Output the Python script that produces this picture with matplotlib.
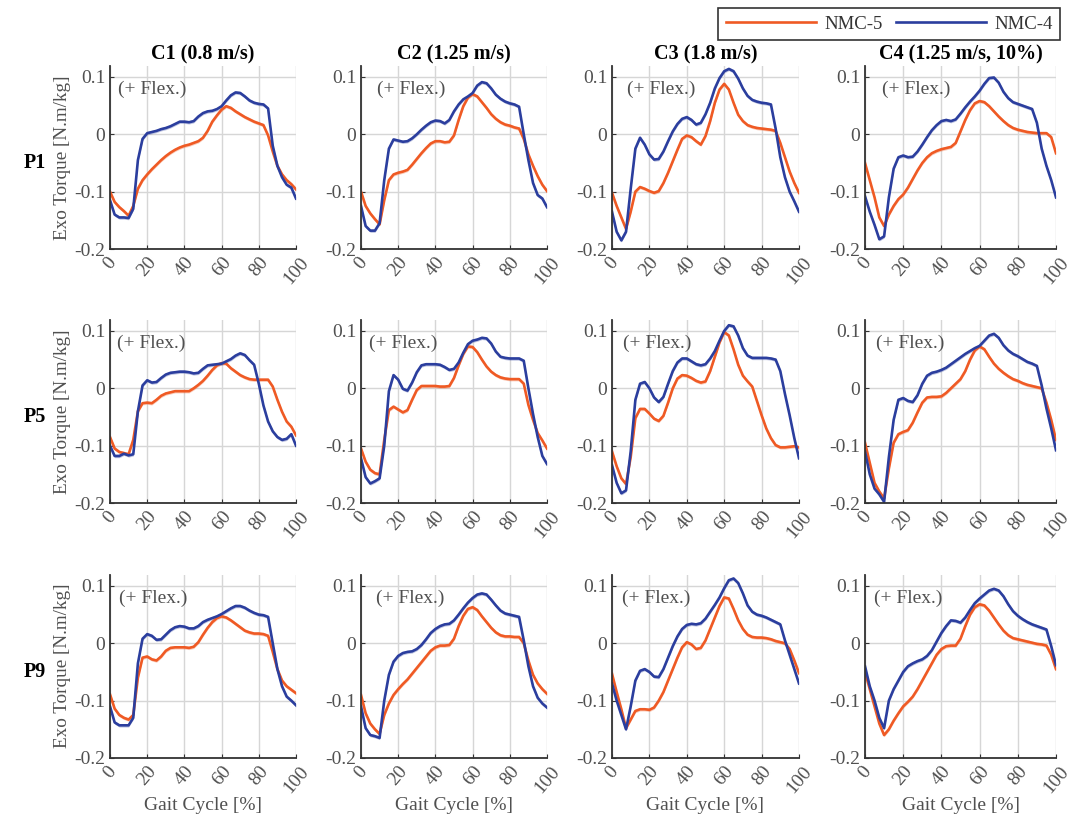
import numpy as np
import matplotlib
matplotlib.use("Agg")
import matplotlib.pyplot as plt
from matplotlib.lines import Line2D

plt.rcParams['font.family'] = ['Liberation Serif', 'DejaVu Serif']

# gait cycle sample points [%]
gait = np.arange(0, 101, 2.5)

conditions = ['C1 (0.8 m/s)', 'C2 (1.25 m/s)', 'C3 (1.8 m/s)', 'C4 (1.25 m/s, 10%)']
participants = ['P1', 'P5', 'P9']
series_names = ['NMC-5', 'NMC-4']

# ---- P1 ----
nmc5_p1_c1 = [-0.100, -0.118, -0.127, -0.134, -0.142, -0.125, -0.095, -0.080, -0.070, -0.061,
              -0.053, -0.045, -0.038, -0.032, -0.027, -0.023, -0.020, -0.018, -0.015, -0.012,
              -0.006, 0.006, 0.022, 0.033, 0.043, 0.049, 0.046, 0.040, 0.035, 0.030,
              0.026, 0.022, 0.019, 0.016, -0.002, -0.030, -0.055, -0.070, -0.080, -0.087, -0.096]
nmc4_p1_c1 = [-0.115, -0.140, -0.145, -0.145, -0.146, -0.130, -0.045, -0.008, 0.002, 0.004,
              0.006, 0.009, 0.011, 0.014, 0.018, 0.022, 0.022, 0.021, 0.023, 0.031,
              0.037, 0.040, 0.041, 0.044, 0.049, 0.059, 0.068, 0.073, 0.072, 0.066,
              0.059, 0.055, 0.053, 0.052, 0.045, -0.020, -0.055, -0.075, -0.088, -0.093, -0.112]
nmc5_p1_c2 = [-0.100, -0.125, -0.138, -0.148, -0.157, -0.115, -0.080, -0.070, -0.067, -0.065,
              -0.062, -0.053, -0.043, -0.033, -0.024, -0.016, -0.012, -0.012, -0.014, -0.013,
              -0.002, 0.025, 0.049, 0.064, 0.070, 0.066, 0.056, 0.046, 0.035, 0.027,
              0.021, 0.017, 0.015, 0.012, 0.010, -0.008, -0.035, -0.055, -0.073, -0.088, -0.099]
nmc4_p1_c2 = [-0.125, -0.160, -0.168, -0.168, -0.155, -0.080, -0.025, -0.009, -0.011, -0.013,
              -0.012, -0.007, 0.000, 0.008, 0.015, 0.021, 0.024, 0.023, 0.019, 0.025,
              0.040, 0.052, 0.061, 0.066, 0.072, 0.085, 0.091, 0.089, 0.080, 0.069,
              0.062, 0.057, 0.054, 0.052, 0.048, 0.000, -0.045, -0.085, -0.106, -0.112, -0.127]
nmc5_p1_c3 = [-0.102, -0.125, -0.145, -0.165, -0.135, -0.100, -0.092, -0.095, -0.099, -0.102,
              -0.099, -0.085, -0.067, -0.047, -0.027, -0.008, -0.002, -0.005, -0.012, -0.018,
              -0.003, 0.023, 0.055, 0.078, 0.088, 0.078, 0.055, 0.034, 0.023, 0.016,
              0.013, 0.011, 0.010, 0.009, 0.008, 0.006, -0.015, -0.040, -0.065, -0.085, -0.102]
nmc4_p1_c3 = [-0.135, -0.170, -0.185, -0.170, -0.095, -0.025, -0.006, -0.018, -0.035, -0.044,
              -0.043, -0.030, -0.012, 0.005, 0.018, 0.027, 0.030, 0.025, 0.017, 0.020,
              0.035, 0.055, 0.080, 0.098, 0.110, 0.114, 0.110, 0.097, 0.080, 0.067,
              0.060, 0.057, 0.055, 0.054, 0.052, 0.010, -0.040, -0.075, -0.100, -0.117, -0.135]
nmc5_p1_c4 = [-0.050, -0.080, -0.110, -0.145, -0.160, -0.140, -0.125, -0.113, -0.105, -0.093,
              -0.078, -0.063, -0.050, -0.040, -0.033, -0.029, -0.026, -0.024, -0.022, -0.015,
              0.005, 0.025, 0.042, 0.054, 0.058, 0.056, 0.049, 0.040, 0.031, 0.023,
              0.016, 0.011, 0.008, 0.006, 0.004, 0.003, 0.002, 0.002, 0.002, -0.005, -0.033]
nmc4_p1_c4 = [-0.108, -0.135, -0.158, -0.183, -0.178, -0.110, -0.060, -0.040, -0.037, -0.040,
              -0.039, -0.030, -0.018, -0.005, 0.007, 0.016, 0.023, 0.025, 0.023, 0.026,
              0.036, 0.047, 0.057, 0.066, 0.076, 0.088, 0.098, 0.099, 0.090, 0.074,
              0.063, 0.056, 0.053, 0.050, 0.047, 0.044, 0.020, -0.025, -0.055, -0.080, -0.110]

# ---- P5 ----
nmc5_p5_c1 = [-0.085, -0.105, -0.111, -0.113, -0.115, -0.090, -0.040, -0.026, -0.025, -0.026,
              -0.020, -0.013, -0.009, -0.007, -0.005, -0.005, -0.005, -0.005, 0.000, 0.006,
              0.013, 0.022, 0.032, 0.040, 0.044, 0.043, 0.035, 0.029, 0.023, 0.019,
              0.016, 0.015, 0.015, 0.015, 0.015, 0.003, -0.020, -0.041, -0.058, -0.067, -0.082]
nmc4_p5_c1 = [-0.100, -0.118, -0.118, -0.114, -0.117, -0.115, -0.040, 0.005, 0.014, 0.010,
              0.011, 0.018, 0.024, 0.027, 0.028, 0.029, 0.029, 0.028, 0.026, 0.027,
              0.034, 0.040, 0.041, 0.042, 0.043, 0.047, 0.051, 0.057, 0.061, 0.058,
              0.049, 0.041, 0.008, -0.030, -0.058, -0.075, -0.085, -0.090, -0.088, -0.080, -0.100]
nmc5_p5_c2 = [-0.105, -0.128, -0.142, -0.148, -0.150, -0.090, -0.038, -0.032, -0.037, -0.042,
              -0.038, -0.020, -0.003, 0.004, 0.004, 0.004, 0.004, 0.003, 0.003, 0.004,
              0.018, 0.040, 0.060, 0.073, 0.072, 0.063, 0.050, 0.038, 0.029, 0.023,
              0.019, 0.017, 0.016, 0.016, 0.016, 0.008, -0.029, -0.055, -0.078, -0.091, -0.105]
nmc4_p5_c2 = [-0.122, -0.155, -0.166, -0.162, -0.157, -0.100, -0.005, 0.023, 0.015, -0.001,
              -0.004, 0.010, 0.028, 0.040, 0.042, 0.042, 0.042, 0.041, 0.037, 0.032,
              0.034, 0.045, 0.062, 0.077, 0.083, 0.085, 0.088, 0.087, 0.078, 0.064,
              0.055, 0.053, 0.052, 0.052, 0.052, 0.048, 0.000, -0.045, -0.085, -0.118, -0.132]
nmc5_p5_c3 = [-0.110, -0.136, -0.157, -0.167, -0.120, -0.052, -0.036, -0.036, -0.044, -0.053,
              -0.057, -0.048, -0.025, 0.000, 0.017, 0.023, 0.022, 0.018, 0.013, 0.010,
              0.012, 0.030, 0.055, 0.080, 0.098, 0.092, 0.068, 0.041, 0.022, 0.012,
              0.003, -0.022, -0.047, -0.070, -0.087, -0.099, -0.103, -0.103, -0.102, -0.101, -0.103]
nmc4_p5_c3 = [-0.134, -0.165, -0.183, -0.178, -0.110, -0.020, 0.008, 0.011, 0.000, -0.016,
              -0.024, -0.015, 0.008, 0.030, 0.045, 0.052, 0.052, 0.047, 0.042, 0.040,
              0.042, 0.052, 0.065, 0.083, 0.100, 0.110, 0.108, 0.092, 0.070, 0.057,
              0.053, 0.053, 0.053, 0.053, 0.052, 0.050, 0.030, -0.010, -0.047, -0.087, -0.122]
nmc5_p5_c4 = [-0.095, -0.130, -0.165, -0.180, -0.192, -0.140, -0.095, -0.080, -0.076, -0.073,
              -0.060, -0.042, -0.025, -0.016, -0.015, -0.015, -0.014, -0.008, 0.000, 0.008,
              0.016, 0.030, 0.050, 0.066, 0.073, 0.068, 0.055, 0.043, 0.034, 0.027,
              0.021, 0.016, 0.013, 0.009, 0.006, 0.004, 0.002, 0.000, -0.025, -0.055, -0.090]
nmc4_p5_c4 = [-0.110, -0.150, -0.175, -0.185, -0.198, -0.120, -0.055, -0.020, -0.017, -0.022,
              -0.024, -0.012, 0.008, 0.022, 0.027, 0.029, 0.032, 0.036, 0.042, 0.048,
              0.054, 0.060, 0.065, 0.070, 0.074, 0.083, 0.092, 0.095, 0.088, 0.075,
              0.066, 0.060, 0.056, 0.051, 0.046, 0.043, 0.039, 0.005, -0.035, -0.070, -0.108]

# ---- P9 ----
nmc5_p9_c1 = [-0.089, -0.114, -0.125, -0.130, -0.133, -0.125, -0.060, -0.025, -0.023, -0.028,
              -0.030, -0.023, -0.013, -0.008, -0.007, -0.007, -0.007, -0.008, -0.006, 0.002,
              0.015, 0.027, 0.037, 0.044, 0.047, 0.045, 0.040, 0.034, 0.028, 0.022,
              0.019, 0.017, 0.017, 0.016, 0.013, -0.015, -0.045, -0.065, -0.075, -0.081, -0.087]
nmc4_p9_c1 = [-0.110, -0.138, -0.143, -0.143, -0.143, -0.130, -0.035, 0.008, 0.016, 0.013,
              0.006, 0.007, 0.015, 0.023, 0.028, 0.030, 0.029, 0.026, 0.026, 0.030,
              0.037, 0.041, 0.044, 0.047, 0.051, 0.056, 0.061, 0.065, 0.065, 0.062,
              0.057, 0.053, 0.050, 0.049, 0.046, 0.000, -0.045, -0.075, -0.093, -0.100, -0.108]
nmc5_p9_c2 = [-0.090, -0.122, -0.140, -0.150, -0.158, -0.125, -0.105, -0.090, -0.080, -0.071,
              -0.063, -0.053, -0.043, -0.033, -0.023, -0.013, -0.007, -0.004, -0.004, -0.003,
              0.008, 0.030, 0.048, 0.060, 0.063, 0.058, 0.047, 0.037, 0.027, 0.019,
              0.014, 0.012, 0.012, 0.011, 0.011, 0.000, -0.030, -0.055, -0.070, -0.080, -0.088]
nmc4_p9_c2 = [-0.110, -0.148, -0.160, -0.162, -0.165, -0.100, -0.055, -0.032, -0.022, -0.017,
              -0.015, -0.014, -0.010, -0.003, 0.007, 0.018, 0.025, 0.030, 0.033, 0.034,
              0.040, 0.050, 0.061, 0.071, 0.079, 0.085, 0.087, 0.085, 0.076, 0.066,
              0.057, 0.052, 0.050, 0.048, 0.046, 0.005, -0.040, -0.075, -0.095, -0.105, -0.112]
nmc5_p9_c3 = [-0.053, -0.085, -0.115, -0.148, -0.133, -0.118, -0.115, -0.115, -0.116, -0.112,
              -0.100, -0.085, -0.065, -0.045, -0.025, -0.007, 0.002, -0.002, -0.010, -0.008,
              0.005, 0.025, 0.045, 0.065, 0.080, 0.078, 0.060, 0.040, 0.025, 0.015,
              0.011, 0.010, 0.010, 0.009, 0.007, 0.004, 0.002, 0.000, -0.010, -0.030, -0.052]
nmc4_p9_c3 = [-0.070, -0.100, -0.125, -0.150, -0.110, -0.065, -0.048, -0.045, -0.050, -0.058,
              -0.059, -0.045, -0.025, -0.005, 0.012, 0.025, 0.032, 0.034, 0.033, 0.035,
              0.043, 0.055, 0.067, 0.080, 0.096, 0.110, 0.113, 0.105, 0.087, 0.066,
              0.055, 0.050, 0.048, 0.045, 0.041, 0.037, 0.033, 0.005, -0.020, -0.045, -0.070]
nmc5_p9_c4 = [-0.050, -0.080, -0.110, -0.140, -0.160, -0.150, -0.135, -0.122, -0.110, -0.102,
              -0.093, -0.080, -0.065, -0.050, -0.035, -0.020, -0.010, -0.005, -0.004, -0.004,
              0.008, 0.030, 0.050, 0.063, 0.068, 0.066, 0.057, 0.045, 0.033, 0.022,
              0.014, 0.009, 0.007, 0.005, 0.003, 0.001, -0.001, -0.002, -0.004, -0.020, -0.045]
nmc4_p9_c4 = [-0.040, -0.075, -0.100, -0.130, -0.148, -0.100, -0.080, -0.065, -0.050, -0.040,
              -0.035, -0.031, -0.028, -0.022, -0.012, 0.003, 0.018, 0.030, 0.040, 0.039,
              0.036, 0.045, 0.058, 0.070, 0.078, 0.085, 0.092, 0.095, 0.092, 0.082,
              0.068, 0.056, 0.048, 0.042, 0.037, 0.033, 0.030, 0.027, 0.024, -0.005, -0.038]

# rows = participants, cols = conditions
nmc5 = [[nmc5_p1_c1, nmc5_p1_c2, nmc5_p1_c3, nmc5_p1_c4],
        [nmc5_p5_c1, nmc5_p5_c2, nmc5_p5_c3, nmc5_p5_c4],
        [nmc5_p9_c1, nmc5_p9_c2, nmc5_p9_c3, nmc5_p9_c4]]
nmc4 = [[nmc4_p1_c1, nmc4_p1_c2, nmc4_p1_c3, nmc4_p1_c4],
        [nmc4_p5_c1, nmc4_p5_c2, nmc4_p5_c3, nmc4_p5_c4],
        [nmc4_p9_c1, nmc4_p9_c2, nmc4_p9_c3, nmc4_p9_c4]]
band = 0.003  # half-width of shaded spread

col_orange = '#EF5A24'
col_blue = '#2B3E9E'
txt_gray = '#505050'

W, H = 1071, 819
fig = plt.figure(figsize=(W / 100, H / 100), dpi=100)

# axes placement in pixels
col_left = [110, 361, 612, 865]
col_width = [186, 186, 187, 191]
row_top = [65.5, 319.5, 574.5]
ax_h = 183.5
flex_x = [[4.5, 8.5, 8, 9], [4, 4.5, 6, 6], [5, 8, 5.5, 4.5]]

for r in range(3):
    for c in range(4):
        ax = fig.add_axes([col_left[c] / W, 1 - (row_top[r] + ax_h) / H,
                           col_width[c] / W, ax_h / H])
        y5 = np.array(nmc5[r][c])
        y4 = np.array(nmc4[r][c])
        ax.fill_between(gait, y5 - band, y5 + band, color=col_orange, alpha=0.3, lw=0)
        ax.fill_between(gait, y4 - band, y4 + band, color=col_blue, alpha=0.3, lw=0)
        ax.plot(gait, y5, color=col_orange, lw=1.9)
        ax.plot(gait, y4, color=col_blue, lw=1.9)

        ax.set_xlim(0, 100)
        ax.set_ylim(-0.2, 0.12)
        ax.set_xticks([0, 20, 40, 60, 80, 100])
        ax.set_yticks([-0.2, -0.1, 0, 0.1])
        ax.set_yticklabels(['-0.2', '-0.1', '0', '0.1'])
        ax.grid(True, color='#d6d6d6', lw=1.0)
        ax.set_axisbelow(True)
        for s in ['top', 'right']:
            ax.spines[s].set_visible(False)
        for s in ['left', 'bottom']:
            ax.spines[s].set_color('#333333')
            ax.spines[s].set_linewidth(1.3)
        ax.tick_params(axis='both', labelsize=14, colors='#333333', labelcolor=txt_gray,
                       direction='in', length=3)
        for lab in ax.get_xticklabels():
            lab.set_rotation(50)
            lab.set_ha('center')

        ax.text(flex_x[r][c], 0.078, '(+ Flex.)', fontsize=14, color=txt_gray,
                va='center', ha='left')

        if r == 0:
            ax.set_title(conditions[c], fontsize=14.5, fontweight='bold', pad=4)
        if c == 0:
            ax.set_ylabel('Exo Torque [N.m/kg]', fontsize=13.8, color=txt_gray, labelpad=2)
        if r == 2:
            ax.set_xlabel('Gait Cycle [%]', fontsize=14, color=txt_gray)
            ax.xaxis.set_label_coords(0.5, -0.215)

    fig.text(35 / W, 1 - (row_top[r] + ax_h / 2 + 6) / H, participants[r],
             fontsize=14.5, fontweight='bold', ha='center', va='center')

handles = [Line2D([], [], color=col_orange, lw=1.9),
           Line2D([], [], color=col_blue, lw=1.9)]
leg = fig.legend(handles, series_names, loc='upper right', ncol=2,
                 bbox_to_anchor=(1060 / W, 1 - 8 / H), borderaxespad=0, fontsize=13.5,
                 handlelength=4.8, columnspacing=0.7, handletextpad=0.45,
                 fancybox=False, framealpha=1, borderpad=0.4)
leg.get_frame().set_edgecolor('#333333')
leg.get_frame().set_linewidth(1.2)
for t in leg.get_texts():
    t.set_color('#333333')

fig.savefig('out.png', dpi=100)
